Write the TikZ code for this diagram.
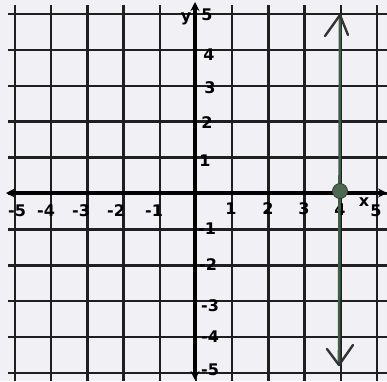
\documentclass[tikz,border=0pt]{standalone}
\usepackage{fontspec}
\setmainfont{DejaVu Sans}
\usetikzlibrary{arrows.meta}
\begin{document}
\begin{tikzpicture}[x=1pt,y=-1pt,
  gridline/.style={line width=2.5pt,black!88},
  axisline/.style={line width=3.2pt,black},
  lbl/.style={font=\bfseries\fontsize{16}{16}\selectfont,inner sep=0pt,text=black},
  graphline/.style={line width=2.6pt,color=graphgreen},
  chev/.style={line width=2.4pt,color=black!80,line cap=round,line join=round}]
\definecolor{graphgreen}{HTML}{3F5E46}
\definecolor{paper}{HTML}{F1F1F5}
\definecolor{ptgreen}{HTML}{4E6852}
\fill[paper] (0,0) rectangle (387,381);
\useasboundingbox (0,0) rectangle (387,381);
% grid
\foreach \i in {0,...,10} {
  \draw[gridline] ({15+36.2*\i},5) -- ({15+36.2*\i},381);
  \draw[gridline] (8,{14+35.9*\i}) -- (387,{14+35.9*\i});
}
% axes
\coordinate (org) at (195,193);
\coordinate (xl) at (6,193);
\coordinate (xr) at (387,193);
\coordinate (yt) at (195,2);
\coordinate (yb) at (195,380);
\draw[axisline,-{Stealth[length=9pt,width=9pt]}] (org) -- (xr);
\draw[axisline,-{Stealth[length=9pt,width=9pt]}] (org) -- (xl);
\draw[axisline,-{Stealth[length=9pt,width=9pt]}] (org) -- (yt);
\draw[axisline,-{Stealth[length=9pt,width=9pt]}] (org) -- (yb);
% axis labels
\node[lbl] (ylab) at (186,19) {y};
\node[lbl] (xlab) at (364,202) {x};
\node[lbl] (y5) at (207,15) {5};
\node[lbl] (y4) at (209,55) {4};
\node[lbl] (y3) at (210,88) {3};
\node[lbl] (y2) at (207,123) {2};
\node[lbl] (y1) at (205,161) {1};
\node[lbl] (ym1) at (207,229) {-1};
\node[lbl] (ym2) at (208,265) {-2};
\node[lbl] (ym3) at (210,306) {-3};
\node[lbl] (ym4) at (210,337) {-4};
\node[lbl] (ym5) at (210,370) {-5};
\node[lbl] (xm5) at (17,211) {-5};
\node[lbl] (xm4) at (46,211) {-4};
\node[lbl] (xm3) at (81,211) {-3};
\node[lbl] (xm2) at (116,211) {-2};
\node[lbl] (xm1) at (154,211) {-1};
\node[lbl] (x1) at (231,209) {1};
\node[lbl] (x2) at (268,209) {2};
\node[lbl] (x3) at (304,209) {3};
\node[lbl] (x4) at (340,210) {4};
\node[lbl] (x5) at (376,211) {5};
% graph line x = 4
\coordinate (gtop) at (340,15);
\coordinate (gbot) at (339,365);
\draw[graphline] (gtop) -- (gbot);
\coordinate (ctl) at (325,36);
\coordinate (ctr) at (348,35);
\draw[chev] (ctl) -- (gtop) -- (ctr);
\coordinate (cbl) at (327,349);
\coordinate (cbr) at (353,345);
\draw[chev] (cbl) -- (gbot) -- (cbr);
\node[circle,fill=ptgreen,draw=graphgreen!70!black,line width=0.8pt,minimum width=15pt,minimum height=15pt,inner sep=0pt] (pt) at (340,191) {};
\end{tikzpicture}
\end{document}
